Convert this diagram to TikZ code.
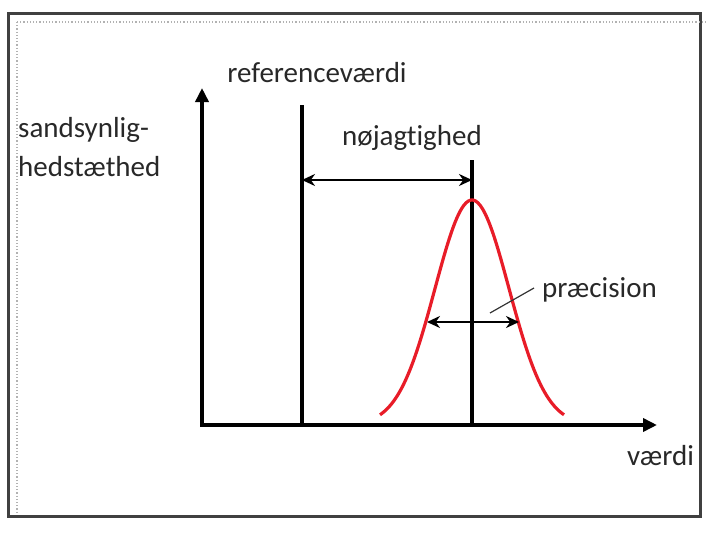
\documentclass[tikz,border=0pt]{standalone}
\usepackage{fontspec}
\setmainfont{Carlito}[Ligatures={NoCommon}]
\usetikzlibrary{arrows.meta}
\definecolor{curvered}{RGB}{232,28,40}
\definecolor{txt}{RGB}{40,40,40}
\begin{document}
\begin{tikzpicture}[x=1pt,y=-1pt,
  lbl/.style={font=\fontsize{29}{33}\selectfont,text=txt,inner sep=0pt},
  axis/.style={line width=4pt,-{Triangle[length=14pt,width=13pt]}},
  vline/.style={line width=4pt},
  dim/.style={line width=2.6pt,{Stealth[length=13pt,width=12pt]}-{Stealth[length=13pt,width=12pt]}},
  frame/.style={line width=3pt,draw=black!75}]
\useasboundingbox (0,0) rectangle (714,535);
% frame
\draw[frame] (8,14) rectangle (700,516);
\draw[black!30,line width=1.2pt,dotted] (17,22) -- (708,22);
\draw[black!30,line width=1.2pt,dotted] (17,22) -- (17,512);
% coordinates
\coordinate (o) at (202,425);
\coordinate (ytip) at (202,88);
\coordinate (xtip) at (657,425);
\coordinate (refT) at (302,105);
\coordinate (refB) at (302,425);
\coordinate (pkT) at (472,160);
\coordinate (pkB) at (472,425);
\coordinate (accL) at (302,180);
\coordinate (accR) at (472,180);
\coordinate (preL) at (427,322);
\coordinate (preR) at (519,322);
\coordinate (leadA) at (490,313);
\coordinate (leadB) at (534,288);
% axes
\draw[axis] (o) -- (ytip);
\draw[axis] ([xshift=-2pt]o) -- (xtip);
% vertical lines
\draw[vline] (refB) -- (refT);
\draw[vline] (pkB) -- (pkT);
% gaussian
\draw[curvered,line width=3.2pt] plot[domain=-92:92,samples=80,smooth]
  ({472+\x},{425-225*exp(-(\x*\x)/(2*37*37))});
% dimension arrows
\draw[dim] (accL) -- (accR);
\draw[dim,line width=2.4pt] (preL) -- (preR);
\draw[line width=1.2pt,black!80] (leadA) -- (leadB);
% labels
\node[lbl,anchor=base] (ref) at (317,82) {referenceværdi};
\node[lbl,anchor=base west] (sand) at (18,137) {sandsynlig-};
\node[lbl,anchor=base west] (hed) at (18,176) {hedstæthed};
\node[lbl,anchor=base] (acc) at (412,145) {nøjagtighed};
\node[lbl,anchor=base west] (pre) at (542,297) {præcision};
\node[lbl,anchor=base west] (vae) at (627,465) {værdi};
\end{tikzpicture}
\end{document}
